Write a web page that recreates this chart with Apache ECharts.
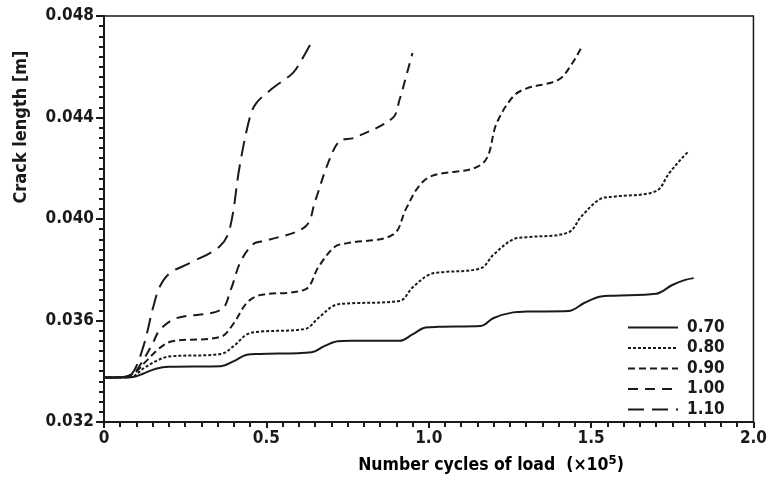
<!DOCTYPE html>
<html>
<head>
<meta charset="utf-8">
<script src="https://cdn.jsdelivr.net/npm/echarts@6/dist/echarts.min.js"></script>
<style>
  html, body { margin: 0; padding: 0; background: #fff; }
  #chart { width: 770px; height: 488px; }
</style>
</head>
<body>
<div id="chart"></div>
<script>
// load ratios (legend names)
var loadNames = ['0.70', '0.80', '0.90', '1.00', '1.10'];

// number of cycles (x10^5) and crack length [m] for every curve
var x070 = [0, 0.05, 0.09, 0.12, 0.16, 0.20, 0.36, 0.40, 0.44, 0.48, 0.64, 0.68, 0.72, 0.76, 0.91, 0.95, 0.99, 1.03, 1.16, 1.20, 1.26, 1.30, 1.43, 1.48, 1.53, 1.57, 1.70, 1.75, 1.79, 1.816];
var y070 = [0.03375, 0.03375, 0.03377, 0.0339, 0.0341, 0.03418, 0.0342, 0.0344, 0.03465, 0.03468, 0.03475, 0.035, 0.03518, 0.0352, 0.0352, 0.03545, 0.03572, 0.03575, 0.03578, 0.0361, 0.03632, 0.03635, 0.03637, 0.0367, 0.03695, 0.03698, 0.03705, 0.0374, 0.0376, 0.03767];

var x080 = [0, 0.05, 0.09, 0.12, 0.16, 0.20, 0.36, 0.40, 0.44, 0.48, 0.62, 0.66, 0.71, 0.75, 0.91, 0.95, 1.0, 1.04, 1.16, 1.2, 1.26, 1.30, 1.43, 1.47, 1.53, 1.57, 1.70, 1.74, 1.78, 1.80];
var y080 = [0.03375, 0.03375, 0.0338, 0.0341, 0.0344, 0.03458, 0.03468, 0.035, 0.03545, 0.03556, 0.03567, 0.0361, 0.0366, 0.03667, 0.03677, 0.0373, 0.0378, 0.0379, 0.03806, 0.0386, 0.0392, 0.03928, 0.03947, 0.0401, 0.0408, 0.04088, 0.0411, 0.0418, 0.0424, 0.04266];

var x090 = [0, 0.05, 0.09, 0.13, 0.17, 0.21, 0.36, 0.40, 0.44, 0.48, 0.62, 0.66, 0.71, 0.75, 0.89, 0.93, 0.97, 1.01, 1.165, 1.21, 1.26, 1.30, 1.40, 1.44, 1.472];
var y090 = [0.03375, 0.03376, 0.0339, 0.0344, 0.0349, 0.03518, 0.03536, 0.0359, 0.0367, 0.037, 0.03723, 0.0381, 0.0389, 0.03905, 0.03938, 0.0404, 0.0413, 0.0417, 0.04218, 0.0438, 0.04483, 0.04514, 0.04549, 0.0461, 0.0468];

var x100 = [0, 0.05, 0.09, 0.121, 0.15, 0.172, 0.223, 0.36, 0.39, 0.42, 0.46, 0.50, 0.62, 0.65, 0.69, 0.725, 0.77, 0.889, 0.91, 0.93, 0.95];
var y100 = [0.03375, 0.03376, 0.0339, 0.03445, 0.0351, 0.03563, 0.03609, 0.03642, 0.0372, 0.0383, 0.03901, 0.03915, 0.0397, 0.0407, 0.0422, 0.04306, 0.0432, 0.04398, 0.0447, 0.0456, 0.04654];

var x110 = [0, 0.05, 0.086, 0.121, 0.152, 0.172, 0.203, 0.264, 0.356, 0.387, 0.418, 0.449, 0.469, 0.52, 0.582, 0.61, 0.638];
var y110 = [0.03375, 0.03376, 0.0339, 0.03497, 0.03655, 0.03734, 0.03787, 0.03826, 0.03892, 0.0396, 0.0421, 0.044, 0.04457, 0.04516, 0.04576, 0.0463, 0.04694];

var xList = [x070, x080, x090, x100, x110];
var yList = [y070, y080, y090, y100, y110];
var dashes = ['solid', [3, 2], [7, 4], [10, 7], [16, 8]];

var font = "'DejaVu Sans Condensed', 'DejaVu Sans', sans-serif";
var ink = '#1a1a1a';

function pairs(xs, ys) {
  var out = [];
  for (var i = 0; i < xs.length; i++) out.push([xs[i], ys[i]]);
  return out;
}

var series = loadNames.map(function (name, k) {
  return {
    name: name,
    type: 'line',
    smooth: 0.35,
    symbol: 'none',
    lineStyle: { color: ink, width: 2, type: dashes[k] },
    itemStyle: { color: ink },
    data: pairs(xList[k], yList[k])
  };
});

var chart = echarts.init(document.getElementById('chart'));
chart.setOption({
  backgroundColor: '#fff',
  animation: false,
  grid: {
    left: 104, right: 15, top: 16, bottom: 66,
    show: true, borderColor: ink, borderWidth: 1.5
  },
  legend: {
    data: loadNames,
    orient: 'vertical',
    left: 622, top: 314,
    itemWidth: 50, itemHeight: 14, itemGap: 3.5,
    itemStyle: { opacity: 0 },
    textStyle: {
      fontFamily: font, fontWeight: 'bold', fontSize: 17, lineHeight: 14,
      color: ink, padding: [0, 0, 0, 4]
    }
  },
  xAxis: {
    type: 'value',
    min: 0, max: 2, interval: 0.5,
    axisLine: { lineStyle: { color: ink, width: 2 } },
    axisTick: { length: 6, lineStyle: { color: ink, width: 2 } },
    minorTick: { show: true, splitNumber: 10, length: 5, lineStyle: { color: ink, width: 2 } },
    splitLine: { show: false },
    axisLabel: {
      margin: 8, fontFamily: font, fontWeight: 'bold', fontSize: 17, color: ink,
      formatter: function (v) { return v === 0 ? '0' : v.toFixed(1); }
    }
  },
  yAxis: {
    type: 'value',
    min: 0.032, max: 0.048, interval: 0.004,
    axisLine: { lineStyle: { color: ink, width: 2 } },
    axisTick: { length: 8, lineStyle: { color: ink, width: 2 } },
    minorTick: { show: true, splitNumber: 10, length: 5, lineStyle: { color: ink, width: 2 } },
    splitLine: { show: false },
    axisLabel: {
      margin: 10, fontFamily: font, fontWeight: 'bold', fontSize: 17, color: ink,
      formatter: function (v) { return v.toFixed(3); }
    }
  },
  graphic: [
    {
      type: 'text', x: 21, y: 127, rotation: Math.PI / 2,
      style: {
        text: 'Crack length [m]', fill: ink, align: 'center', verticalAlign: 'middle',
        font: 'bold 18px ' + font
      }
    },
    {
      type: 'text', x: 491, y: 465,
      style: {
        text: '{a|Number cycles of load  (×10}{s|5}{a|)}',
        align: 'center', verticalAlign: 'middle',
        rich: {
          a: { fontFamily: font, fontWeight: 'bold', fontSize: 17.5, color: ink },
          s: { fontFamily: font, fontWeight: 'bold', fontSize: 13, color: ink, verticalAlign: 'top', padding: [0, 0, 9, 0] }
        }
      }
    }
  ],
  series: series
});
</script>
</body>
</html>
